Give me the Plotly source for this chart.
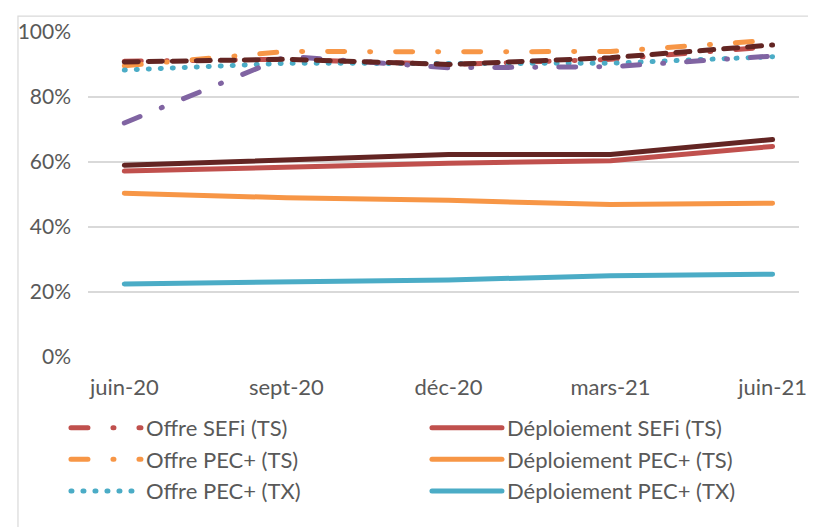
import plotly.graph_objects as go

months = ["juin-20", "sept-20", "déc-20", "mars-21", "juin-21"]
offre_sefi_ts = [91.0, 91.6, 90.0, 91.6, 95.5]
deploiement_sefi_ts = [57.2, 58.5, 59.6, 60.4, 64.8]
offre_pec_ts = [89.6, 94.0, 93.9, 94.0, 97.5]
deploiement_pec_ts = [50.4, 49.0, 48.2, 46.9, 47.3]
offre_pec_tx = [88.3, 90.4, 90.3, 90.4, 92.4]
deploiement_pec_tx = [22.5, 23.0, 23.7, 25.0, 25.5]
serie_violette = [72.0, 92.5, 89.0, 89.3, 92.6]
serie_brune = [59.0, 60.5, 62.3, 62.3, 66.9]
serie_brune_tirets = [90.8, 91.6, 90.0, 92.1, 96.0]

y_ticks = [0, 0.2, 0.4, 0.6, 0.8, 1.0]

RED = "#C0504D"
ORANGE = "#F79646"
TEAL = "#4BACC6"
PURPLE = "#8064A2"
BROWN = "#632523"
# dash patterns assume round line caps (set by post_script below)
DASHDOT = "17px,25px,1px,25px"
DASHDOT_V = "17px,23px,1px,23px"
DOTS = "1px,11px"
DASHES = "14px,10px"
W = 5

x = list(range(len(months)))

def pct(v):
    return [a / 100 for a in v]

fig = go.Figure()

def add(name, vals, color, dash, show=True):
    fig.add_trace(go.Scatter(
        x=x, y=pct(vals), name=name, mode="lines",
        line=dict(color=color, width=W, dash=dash),
        showlegend=show, hoverinfo="skip",
    ))

# legend order row-major so columns read like the reference
add("Offre SEFi (TS)", offre_sefi_ts, RED, DASHDOT)
add("Déploiement SEFi (TS)", deploiement_sefi_ts, RED, "solid")
add("Offre PEC+ (TS)", offre_pec_ts, ORANGE, DASHDOT)
add("Déploiement PEC+ (TS)", deploiement_pec_ts, ORANGE, "solid")
add("Offre PEC+ (TX)", offre_pec_tx, TEAL, DOTS)
add("Déploiement PEC+ (TX)", deploiement_pec_tx, TEAL, "solid")
add("Série violette", serie_violette, PURPLE, DASHDOT_V, show=False)
add("Série brune", serie_brune, BROWN, "solid", show=False)
add("Série brune (tirets)", serie_brune_tirets, BROWN, DASHES, show=False)

FONT = "Lato, Open Sans, sans-serif"
GRID = "#d9d9d9"
TXT = "#595959"

fig.update_layout(
    width=808, height=519,
    margin=dict(l=72, r=10, t=21, b=170),
    paper_bgcolor="white", plot_bgcolor="white",
    font=dict(family=FONT, size=22, color=TXT),
    showlegend=True,
    legend=dict(
        orientation="h", x=-0.031, xanchor="left", y=-0.1535, yanchor="top",
        itemwidth=70, entrywidth=276, entrywidthmode="pixels",
        font=dict(family=FONT, size=22, color=TXT),
        traceorder="normal", tracegroupgap=0,
        bgcolor="rgba(0,0,0,0)",
    ),
    xaxis=dict(
        range=[-0.224, 4.163], tickmode="array", tickvals=x, ticktext=months,
        showgrid=False, zeroline=False, showline=False, ticks="",
        ticklabelstandoff=15, tickfont=dict(size=22, color=TXT),
    ),
    yaxis=dict(
        range=[0, 1.0], tickmode="array", tickvals=y_ticks, tickformat=".0%",
        showgrid=True, gridcolor=GRID, gridwidth=1.5, zeroline=False,
        showline=False, ticks="", ticklabelstandoff=16,
        tickfont=dict(size=21, color=TXT),
    ),
    shapes=[dict(
        type="rect", xref="paper", yref="paper",
        x0=-0.0985, x1=1.03, y0=-0.6, y1=1.0488,
        line=dict(color=GRID, width=1.2), fillcolor="rgba(0,0,0,0)", layer="below",
    )],
)

round_caps = """
var gd = document.getElementById('{plot_id}');
function roundCaps() {
  gd.querySelectorAll('path.js-line').forEach(function (p) {
    p.style.strokeLinecap = 'round';
    p.style.strokeLinejoin = 'round';
  });
}
roundCaps();
gd.on('plotly_afterplot', roundCaps);
"""

fig.write_html("out.html", post_script=round_caps)
